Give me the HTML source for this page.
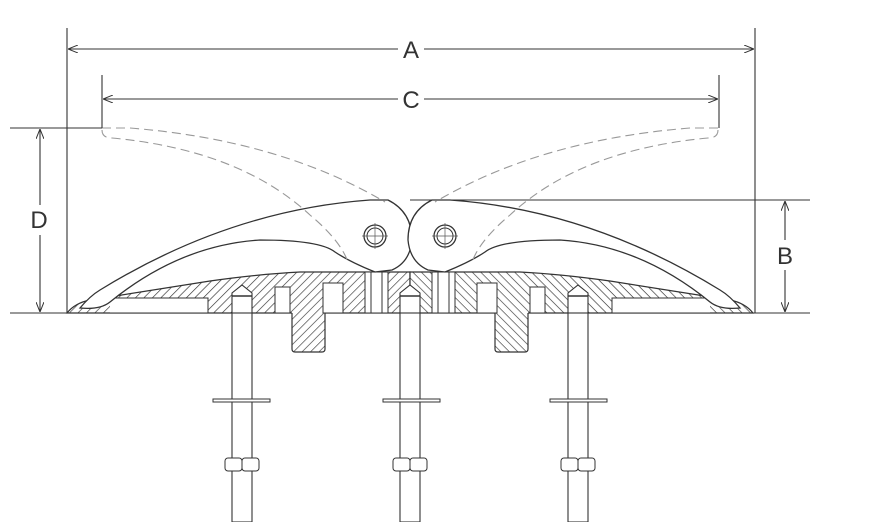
<!DOCTYPE html>
<html><head><style>body{margin:0;background:#fff}svg{display:block}</style></head>
<body>
<svg width="888" height="522" viewBox="0 0 888 522" xmlns="http://www.w3.org/2000/svg">
<defs>
<pattern id="h" width="6" height="6" patternUnits="userSpaceOnUse" patternTransform="rotate(45)">
<rect width="6" height="6" fill="#fff"/><line x1="0" y1="0" x2="0" y2="6" stroke="#333" stroke-width="1.3"/>
</pattern>
<marker id="ar" markerWidth="10" markerHeight="8" refX="10" refY="4" orient="auto" markerUnits="userSpaceOnUse">
<path d="M0,0 L10,4 L0,8" fill="none" stroke="#333" stroke-width="1"/></marker>
<marker id="al" markerWidth="10" markerHeight="8" refX="0" refY="4" orient="auto" markerUnits="userSpaceOnUse">
<path d="M10,0 L0,4 L10,8" fill="none" stroke="#333" stroke-width="1"/></marker>
<g id="half">
 <path d="M67,313 Q75,303 90,300 L210,281 Q260,274 300,272 L410,272 L410,313 Z" fill="url(#h)" stroke="#333" stroke-width="1.2"/>
 <path d="M292,312 L292,349 Q292,352 295,352 L322,352 Q325,352 325,349 L325,312 Z" fill="url(#h)"/>
 <path d="M292,313 L292,349 Q292,352 295,352 L322,352 Q325,352 325,349 L325,313" fill="none" stroke="#333" stroke-width="1.2"/>
 <rect x="110" y="298" width="98" height="15" fill="#fff"/>
 <path d="M110,298 L208,298 L208,313" fill="none" stroke="#333" stroke-width="1"/>
 <rect x="275" y="287" width="15" height="26" fill="#fff" stroke="#333" stroke-width="1"/>
 <rect x="323" y="283" width="20" height="30" fill="#fff" stroke="#333" stroke-width="1"/>
 <rect x="365" y="272" width="23" height="41" fill="#fff" stroke="#333" stroke-width="1"/>
 <line x1="371" y1="272" x2="371" y2="313" stroke="#333"/>
 <line x1="382" y1="272" x2="382" y2="313" stroke="#333"/>
 <path d="M232,313 L232,293 L242,285 L252,293 L252,313 Z" fill="#fff" stroke="#333" stroke-width="1.1"/>
 <line x1="232" y1="296" x2="252" y2="296" stroke="#333" stroke-width="1.6"/>
 <rect x="232" y="313" width="20" height="209" fill="#fff" stroke="#333" stroke-width="1.1"/>
 <rect x="213" y="399" width="57" height="3" fill="#fff" stroke="#333" stroke-width="1"/>
 <rect x="225" y="458" width="17" height="13" rx="3" fill="#fff" stroke="#333" stroke-width="1"/>
 <rect x="242" y="458" width="17" height="13" rx="3" fill="#fff" stroke="#333" stroke-width="1"/>
 <path d="M80,308 Q90,296 100,290 Q230,210 370,200 L388,200 Q412,212 412,240 Q410,262 392,270 L375,272 Q350,262 335,252 Q320,240 260,240 Q180,245 110,302 Q100,310 80,308 Z" fill="#fff" stroke="#333" stroke-width="1.3"/>
 <circle cx="375" cy="236" r="11" fill="#fff" stroke="#333" stroke-width="1.3"/>
 <circle cx="375" cy="236" r="8" fill="none" stroke="#333" stroke-width="1"/>
 <line x1="362" y1="236" x2="388" y2="236" stroke="#555" stroke-width="0.7"/>
 <line x1="375" y1="223" x2="375" y2="249" stroke="#555" stroke-width="0.7"/>
 <path d="M102,128 L130,128 Q280,140 385,202" fill="none" stroke="#999" stroke-width="1.1" stroke-dasharray="9,5"/>
 <path d="M102,130 Q102,138 112,138 Q240,150 310,215 Q340,240 348,262" fill="none" stroke="#999" stroke-width="1.1" stroke-dasharray="9,5"/>
</g>
</defs>
<rect width="888" height="522" fill="#fff"/>
<use href="#half"/>
<use href="#half" transform="translate(820,0) scale(-1,1)"/>
<path d="M400,313 L400,293 L410,285 L420,293 L420,313 Z" fill="#fff" stroke="#333" stroke-width="1.1"/>
<line x1="400" y1="296" x2="420" y2="296" stroke="#333" stroke-width="1.6"/>
<rect x="400" y="313" width="20" height="209" fill="#fff" stroke="#333" stroke-width="1.1"/>
<rect x="383" y="399" width="57" height="3" fill="#fff" stroke="#333" stroke-width="1"/>
<rect x="393" y="458" width="17" height="13" rx="3" fill="#fff" stroke="#333" stroke-width="1"/>
<rect x="410" y="458" width="17" height="13" rx="3" fill="#fff" stroke="#333" stroke-width="1"/>
<g stroke="#333" stroke-width="1.1" fill="none">
<line x1="10" y1="313" x2="292" y2="313"/>
<line x1="325" y1="313" x2="495" y2="313"/>
<line x1="528" y1="313" x2="810" y2="313"/>
<line x1="67" y1="28" x2="67" y2="313"/>
<line x1="755" y1="28" x2="755" y2="313"/>
<line x1="102" y1="75" x2="102" y2="128"/>
<line x1="719" y1="75" x2="719" y2="128"/>
<line x1="10" y1="128" x2="102" y2="128"/>
<line x1="410" y1="200" x2="810" y2="200"/>
<line x1="68" y1="49" x2="398" y2="49" marker-start="url(#al)"/>
<line x1="424" y1="49" x2="754" y2="49" marker-end="url(#ar)"/>
<line x1="103" y1="99" x2="398" y2="99" marker-start="url(#al)"/>
<line x1="424" y1="99" x2="718" y2="99" marker-end="url(#ar)"/>
<line x1="40" y1="129" x2="40" y2="205" marker-start="url(#al)"/>
<line x1="40" y1="235" x2="40" y2="312" marker-end="url(#ar)"/>
<line x1="785" y1="201" x2="785" y2="240" marker-start="url(#al)"/>
<line x1="785" y1="270" x2="785" y2="312" marker-end="url(#ar)"/>
</g>
<g font-family="Liberation Sans, sans-serif" font-size="24" fill="#333" text-anchor="middle">
<text x="411" y="58">A</text>
<text x="411" y="108">C</text>
<text x="39" y="228">D</text>
<text x="785" y="264">B</text>
</g>
</svg>
</body></html>
